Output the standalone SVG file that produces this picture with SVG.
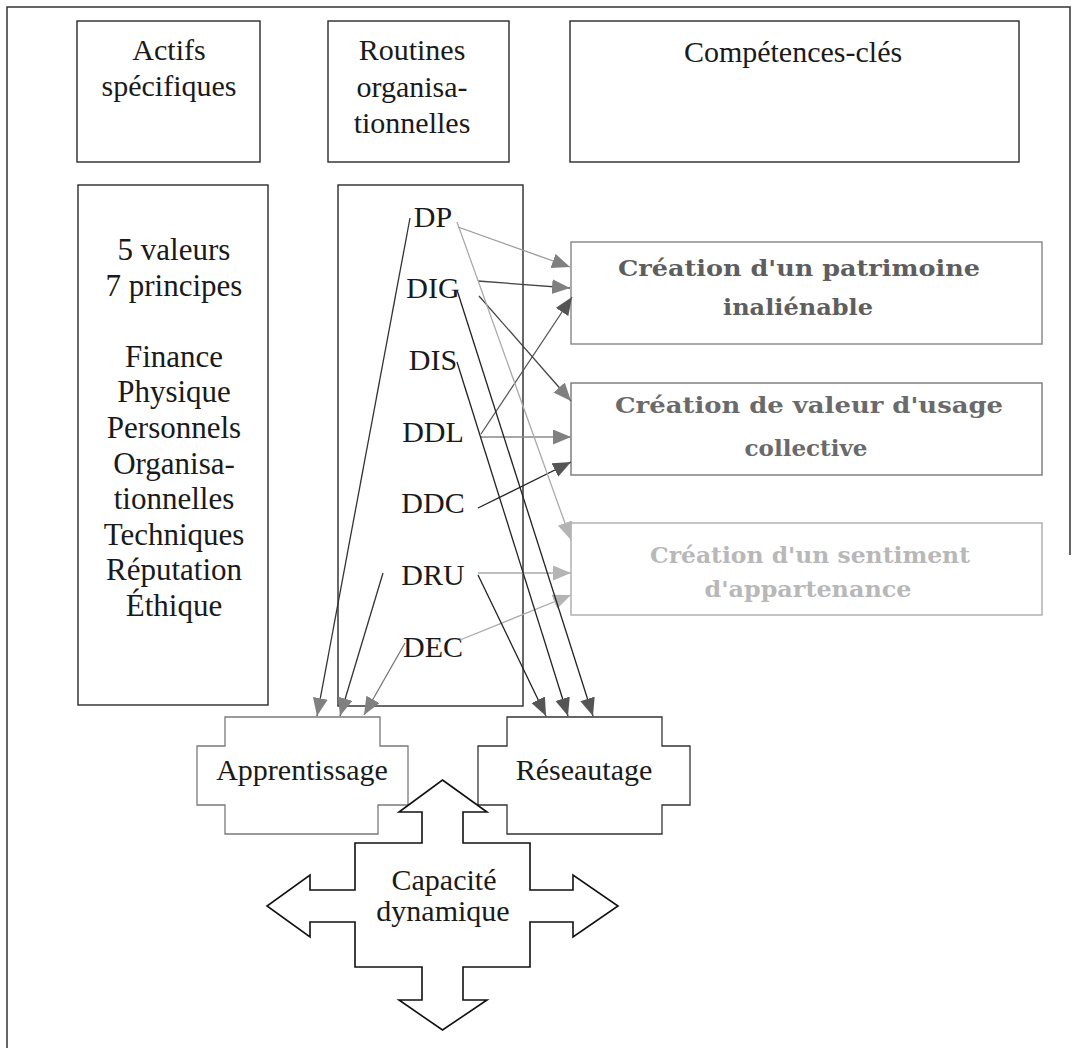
<svg xmlns="http://www.w3.org/2000/svg" width="1077" height="1048" viewBox="0 0 1077 1048">
  <style>
    .box { fill: none; stroke: #2a2a2a; stroke-width: 1.4; }
    .t { font-family: "Liberation Serif", "Times New Roman", serif; font-size: 30px; fill: #1a1a1a; text-anchor: middle; }
    .tl { font-size: 31px; }
    .bt { font-family: "DejaVu Serif", "Liberation Serif", serif; font-weight: bold; font-size: 23px; text-anchor: middle; }
    .c { fill: none; stroke-width: 1.3; }
  </style>
  <defs>
    <marker id="hDark" markerUnits="userSpaceOnUse" markerWidth="20" markerHeight="16" refX="18" refY="7.5" orient="auto">
      <path d="M0,0 L18,7.5 L0,15 z" fill="#555"/>
    </marker>
    <marker id="hMid" markerUnits="userSpaceOnUse" markerWidth="20" markerHeight="16" refX="18" refY="7.5" orient="auto">
      <path d="M0,0 L18,7.5 L0,15 z" fill="#808080"/>
    </marker>
    <marker id="hLight" markerUnits="userSpaceOnUse" markerWidth="20" markerHeight="16" refX="18" refY="7.5" orient="auto">
      <path d="M0,0 L18,7.5 L0,15 z" fill="#b4b4b4"/>
    </marker>
  </defs>

  <rect width="1077" height="1048" fill="#fff"/>

  <!-- outer frame -->
  <g id="frame" fill="none" stroke="#333" stroke-width="1.5">
    <path d="M7,1048 L7,7 L1070,7 L1070,555"/>
  </g>

  <!-- column headers -->
  <g id="hdr-actifs">
    <rect class="box" x="77" y="21" width="183" height="141"/>
    <text class="t" x="169" y="60">Actifs</text>
    <text class="t" x="169" y="96">spécifiques</text>
  </g>
  <g id="hdr-routines">
    <rect class="box" x="328" y="21" width="181" height="141"/>
    <text class="t" x="412" y="60">Routines</text>
    <text class="t" x="412" y="97">organisa-</text>
    <text class="t" x="412" y="133">tionnelles</text>
  </g>
  <g id="hdr-competences">
    <rect class="box" x="570" y="21" width="449" height="141"/>
    <text class="t" x="793" y="62">Compétences-clés</text>
  </g>

  <!-- specific assets -->
  <g id="actifs">
    <rect class="box" x="78" y="185" width="190" height="520"/>
    <text class="t tl" x="174" y="260">5 valeurs</text>
    <text class="t tl" x="174" y="295.6">7 principes</text>
    <text class="t tl" x="174" y="366.8">Finance</text>
    <text class="t tl" x="174" y="402.4">Physique</text>
    <text class="t tl" x="174" y="438">Personnels</text>
    <text class="t tl" x="174" y="473.6">Organisa-</text>
    <text class="t tl" x="174" y="509.2">tionnelles</text>
    <text class="t tl" x="174" y="544.8">Techniques</text>
    <text class="t tl" x="174" y="580.4">Réputation</text>
    <text class="t tl" x="174" y="616">Éthique</text>
  </g>

  <!-- organisational routines -->
  <g id="routines">
    <rect class="box" x="338" y="185" width="185" height="521"/>
    <text class="t" x="433" y="227">DP</text>
    <text class="t" x="433" y="298">DIG</text>
    <text class="t" x="433" y="370">DIS</text>
    <text class="t" x="433" y="442">DDL</text>
    <text class="t" x="433" y="513">DDC</text>
    <text class="t" x="433" y="585">DRU</text>
    <text class="t" x="433" y="657">DEC</text>
  </g>

  <!-- key competences -->
  <g id="patrimoine">
    <rect x="571" y="242" width="471" height="102" fill="none" stroke="#858585" stroke-width="1.4"/>
    <text class="bt" x="799" y="276" fill="#5e5e5e" textLength="362" lengthAdjust="spacingAndGlyphs">Création d'un patrimoine</text>
    <text class="bt" x="798" y="315" fill="#5e5e5e" textLength="150" lengthAdjust="spacingAndGlyphs">inaliénable</text>
  </g>
  <g id="valeur">
    <rect x="571" y="383" width="471" height="92" fill="none" stroke="#777" stroke-width="1.4"/>
    <text class="bt" x="809" y="413" fill="#6a6a6a" textLength="388" lengthAdjust="spacingAndGlyphs">Création de valeur d'usage</text>
    <text class="bt" x="806" y="456" fill="#6a6a6a" textLength="123" lengthAdjust="spacingAndGlyphs">collective</text>
  </g>
  <g id="sentiment">
    <rect x="571" y="523" width="471" height="92" fill="none" stroke="#ababab" stroke-width="1.4"/>
    <text class="bt" x="810" y="563" fill="#b8b8b8" textLength="320" lengthAdjust="spacingAndGlyphs">Création d'un sentiment</text>
    <text class="bt" x="808" y="597" fill="#b8b8b8" textLength="207" lengthAdjust="spacingAndGlyphs">d'appartenance</text>
  </g>

  <!-- learning / networking -->
  <g id="apprentissage">
    <path d="M225,717 L380,717 L380,746 L408,746 L408,805 L378,805 L378,834 L225,834 L225,805 L197,805 L197,746 L225,746 Z" fill="#fff" stroke="#7a7a7a" stroke-width="1.3"/>
    <text class="t" x="302" y="780" fill="#555">Apprentissage</text>
  </g>
  <g id="reseautage">
    <path d="M507,717 L662,717 L662,746 L690,746 L690,805 L662,805 L662,834 L507,834 L507,805 L478,805 L478,746 L507,746 Z" fill="#fff" stroke="#333" stroke-width="1.3"/>
    <text class="t" x="584" y="780">Réseautage</text>
  </g>

  <!-- connectors -->
  <g id="connectors">
    <line class="c" x1="458" y1="227" x2="570" y2="267" stroke="#999" marker-end="url(#hMid)"/>
    <line class="c" x1="478" y1="281" x2="570" y2="288" stroke="#444" marker-end="url(#hMid)"/>
    <line class="c" x1="481" y1="434" x2="572" y2="297" stroke="#555" marker-end="url(#hDark)"/>
    <line class="c" x1="479" y1="296" x2="571" y2="401" stroke="#444" marker-end="url(#hMid)"/>
    <line class="c" x1="480" y1="437" x2="571" y2="437" stroke="#888" marker-end="url(#hMid)"/>
    <line class="c" x1="478" y1="508" x2="571" y2="462" stroke="#222" marker-end="url(#hDark)"/>
    <line class="c" x1="457" y1="222" x2="571" y2="540" stroke="#aaa" marker-end="url(#hLight)"/>
    <line class="c" x1="478" y1="573" x2="571" y2="573" stroke="#aaa" marker-end="url(#hLight)"/>
    <line class="c" x1="460" y1="640" x2="571" y2="595" stroke="#aaa" marker-end="url(#hLight)"/>
    <line class="c" x1="410" y1="218" x2="317" y2="716" stroke="#333" marker-end="url(#hMid)"/>
    <line class="c" x1="383" y1="573" x2="340" y2="716" stroke="#333" marker-end="url(#hMid)"/>
    <line class="c" x1="405" y1="643" x2="364" y2="715" stroke="#777" marker-end="url(#hMid)"/>
    <line class="c" x1="457" y1="290" x2="593" y2="716" stroke="#222" marker-end="url(#hDark)"/>
    <line class="c" x1="457" y1="362" x2="568" y2="716" stroke="#222" marker-end="url(#hDark)"/>
    <line class="c" x1="478" y1="575" x2="546" y2="716" stroke="#222" marker-end="url(#hDark)"/>
  </g>

  <!-- dynamic capability: four-way arrow -->
  <g id="capacite">
    <path d="M442.5,780 L487,812 L463,812 L463,843 L530,843 L530,890 L573,890 L573,875 L618,906 L573,937 L573,922 L530,922 L530,967 L463,967 L463,1000 L487,1000 L442.5,1030 L399,1000 L422,1000 L422,967 L355,967 L355,922 L310,922 L310,937 L267,906 L310,875 L310,890 L355,890 L355,843 L422,843 L422,812 L399,812 Z" fill="#fff" stroke="#111" stroke-width="1.6" stroke-linejoin="miter"/>
    <text class="t" x="444" y="890">Capacité</text>
    <text class="t" x="443" y="921">dynamique</text>
  </g>
</svg>
